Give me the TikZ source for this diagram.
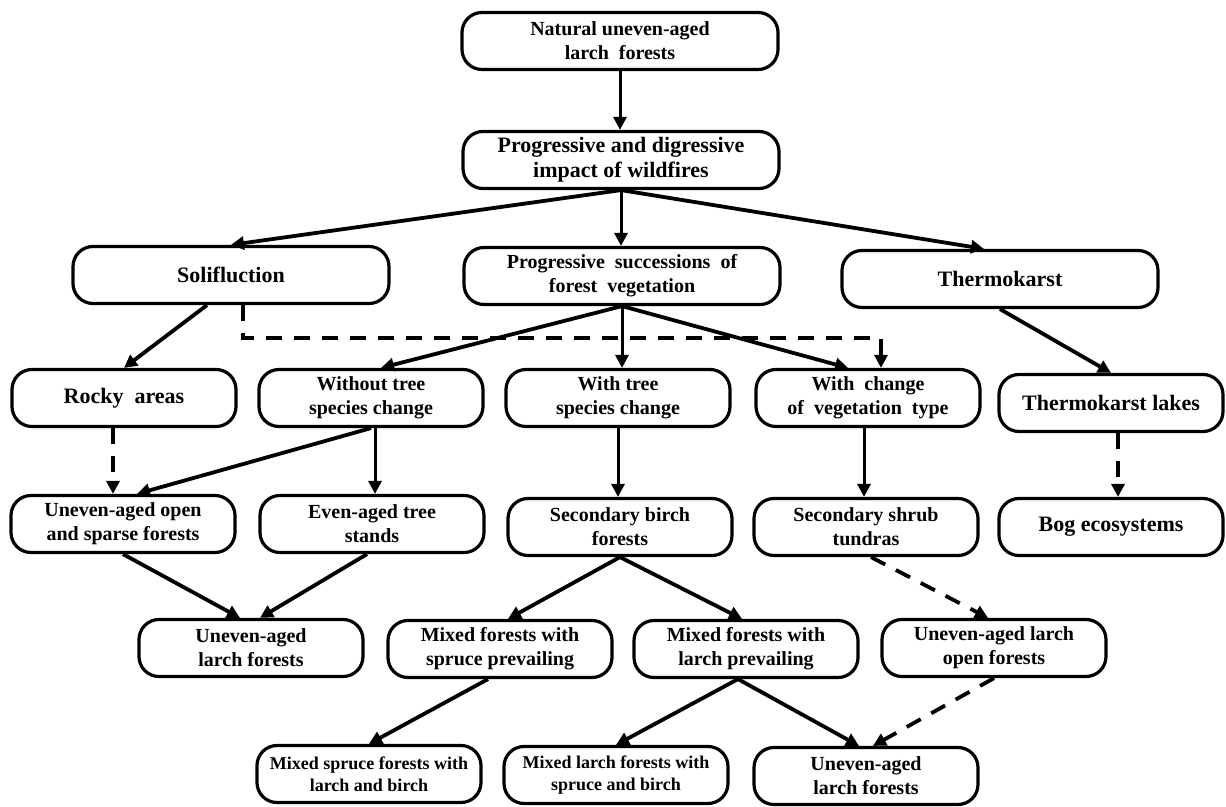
\documentclass[tikz,border=0pt]{standalone}
\usepackage{fontspec}
\setmainfont{Liberation Serif}
\usetikzlibrary{arrows.meta}

\begin{document}
\begin{tikzpicture}[x=0.5pt, y=-0.5pt, >={Triangle[length=6.5pt,width=6.5pt]},
  box/.style={draw, rounded corners=10pt, line width=1.6pt, align=center, minimum width=112pt, minimum height=28.5pt, inner sep=2pt, font=\bfseries\fontsize{10}{12}\selectfont},
  widebox/.style={box, minimum width=158pt},
  big/.style={font=\bfseries\fontsize{11}{12.5}\selectfont},
  small/.style={font=\bfseries\fontsize{9}{11}\selectfont},
  arr/.style={->, line width=1.9pt},
  varr/.style={->, line width=1.5pt},
  dasharr/.style={->, line width=1.9pt, dash pattern=on 8pt off 6pt}]

\useasboundingbox (0,0) rectangle (1226,807);

\node[widebox] (natural) at (620,41) {Natural uneven-aged\\larch\ \ forests};
\node[widebox, big] (impact) at (621,160) {Progressive and digressive\\impact of wildfires};
\node[widebox, big] (solif) at (231,275) {Solifluction};
\node[widebox] (succ) at (622,276) {Progressive\ \ successions\ \ of\\forest\ \ vegetation};
\node[widebox, big] (thermo) at (1000,279) {Thermokarst};
\node[box, big] (rocky) at (124,398) {Rocky\ \ areas};
\node[box] (without) at (371,398) {Without tree\\species change};
\node[box] (withtree) at (618,398) {With tree\\species change};
\node[box] (withchange) at (868,398) {With\ \ change\\of\ \ vegetation\ \ type};
\node[box, big] (lakes) at (1111,403) {Thermokarst lakes};
\node[box] (opensparse) at (123,524) {Uneven-aged open\\and sparse forests};
\node[box] (evenaged) at (372,524) {Even-aged tree\\stands};
\node[box] (birch) at (620,527) {Secondary birch\\forests};
\node[box] (shrub) at (866,527) {Secondary shrub\\tundras};
\node[box, big] (bog) at (1111,527) {Bog ecosystems};
\node[box] (larchA) at (251,648) {Uneven-aged\\larch forests};
\node[box] (mixspruce) at (500,649) {Mixed forests with\\spruce prevailing};
\node[box] (mixlarch) at (746,649) {Mixed forests with\\larch prevailing};
\node[box] (larchopen) at (994,648) {Uneven-aged larch\\open forests};
\node[box, small] (sprucebirch) at (369,774) {Mixed spruce forests with\\larch and birch};
\node[box, small] (larchbirch) at (616,775) {Mixed larch forests with\\spruce and birch};
\node[box] (larchB) at (866,776) {Uneven-aged\\larch forests};

\draw[varr] (natural.south) -- (natural.south |- impact.north);
\draw[arr] (impact.south) -- (solif.north);
\draw[varr] (impact.south) -- (impact.south |- succ.north);
\draw[arr] (impact.south) -- ([xshift=-8pt]thermo.north);
\draw[arr] ([xshift=-12pt]solif.south) -- (rocky.north);
\draw[dasharr] ([xshift=6pt]solif.south) |- ([xshift=6.5pt,yshift=15pt]withchange.north) -- ([xshift=6.5pt]withchange.north);
\draw[arr] (succ.south) -- ([xshift=5pt]without.north);
\draw[varr] (succ.south) -- (succ.south |- withtree.north);
\draw[arr] (succ.south) -- ([xshift=-10pt]withchange.north);
\draw[arr] (thermo.south) -- (lakes.north);
\draw[dasharr] ([xshift=-5.5pt]rocky.south) -- ([xshift=-5.5pt]rocky.south |- opensparse.north);
\draw[arr] (without.south) -- ([xshift=7pt]opensparse.north);
\draw[varr] ([xshift=2pt]without.south) -- ([xshift=2pt]without.south |- evenaged.north);
\draw[varr] (withtree.south) -- (withtree.south |- birch.north);
\draw[varr] ([xshift=-2pt]withchange.south) -- ([xshift=-2pt]withchange.south |- shrub.north);
\draw[dasharr] ([xshift=3.5pt]lakes.south) -- ([xshift=3.5pt]lakes.south |- bog.north);
\draw[arr] (opensparse.south) -- ([xshift=-5.5pt]larchA.north);
\draw[arr] ([xshift=-2.5pt]evenaged.south) -- ([xshift=4.5pt]larchA.north);
\draw[arr] (birch.south) -- ([xshift=4pt]mixspruce.north);
\draw[arr] (birch.south) -- ([xshift=-2pt]mixlarch.north);
\draw[dasharr] ([xshift=2.5pt]shrub.south) -- ([xshift=-3pt]larchopen.north);
\draw[arr] ([xshift=-6pt]mixspruce.south) -- (sprucebirch.north);
\draw[arr] ([xshift=-4pt]mixlarch.south) -- (larchbirch.north);
\draw[arr] ([xshift=-4pt]mixlarch.south) -- ([xshift=-3.5pt]larchB.north);
\draw[dasharr] (larchopen.south) -- ([xshift=3.5pt]larchB.north);

\end{tikzpicture}
\end{document}
